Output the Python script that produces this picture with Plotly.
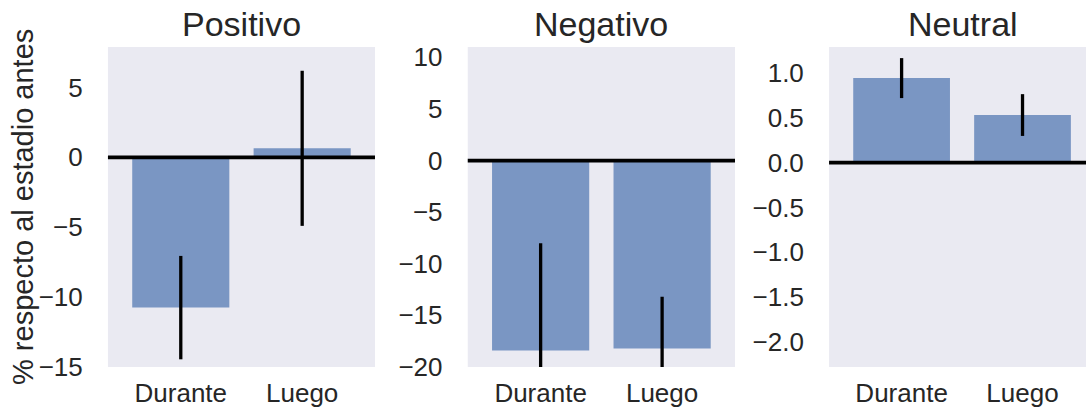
import plotly.graph_objects as go

categories = ["Durante", "Luego"]
panels = ["Positivo", "Negativo", "Neutral"]
positivo = [-10.75, 0.65]
positivo_err = [3.7, 5.55]
negativo = [-18.4, -18.2]
negativo_err = [10.4, 5.0]
neutral = [0.943, 0.531]
neutral_err = [0.223, 0.233]

values = [positivo, negativo, neutral]
errors = [positivo_err, negativo_err, neutral_err]
y_ranges = [[-15.0, 7.9], [-20.0, 11.0], [-2.28, 1.29]]
x_ranges = [[-0.6, 1.6], [-0.6, 1.6], [-0.6, 1.525]]
x_domains = [[0.0994, 0.3453], [0.4307, 0.6768], [0.7634, 1.0]]
dticks = [5, 5, 0.5]
tickformats = ["d", "d", ".1f"]

BG = "#EAEAF2"
BAR = "#7A96C3"
TXT = "#262626"
FONT = "Liberation Sans, Arial, sans-serif"

fig = go.Figure()
for i in range(3):
    sx = "" if i == 0 else str(i + 1)
    fig.add_trace(go.Bar(
        x=categories, y=values[i],
        xaxis="x" + sx, yaxis="y" + sx,
        marker=dict(color=BAR, line=dict(width=0)),
        width=0.8,
        error_y=dict(type="data", array=errors[i], color="black", thickness=3.3, width=0),
        showlegend=False, hoverinfo="skip",
    ))
    fig.add_shape(type="line", xref="x" + sx + " domain", yref="y" + sx,
                  x0=0, x1=1, y0=0, y1=0, line=dict(color="black", width=3.8), layer="above")
    fig.update_layout(**{
        "xaxis" + sx: dict(domain=x_domains[i], range=x_ranges[i], anchor="y" + sx,
                           showgrid=False, zeroline=False, showline=False, automargin=False,
                           ticks="outside", ticklen=3, tickcolor="rgba(0,0,0,0)",
                           tickfont=dict(size=26, color=TXT, family=FONT)),
        "yaxis" + sx: dict(domain=[0, 1], range=y_ranges[i], anchor="x" + sx,
                           showgrid=False, zeroline=False, showline=False, automargin=False,
                           dtick=dticks[i], tickformat=tickformats[i],
                           ticks="outside", ticklen=19, tickcolor="rgba(0,0,0,0)",
                           tickfont=dict(size=26, color=TXT, family=FONT)),
    })
    xc = (x_domains[i][0] + x_domains[i][1]) / 2
    if i == 2:
        xc = (x_domains[i][0] + 0.7634 + 267 / 1086) / 2
    fig.add_annotation(text=panels[i], xref="paper", yref="paper", x=xc, y=1,
                       xanchor="center", yanchor="bottom", yshift=2, showarrow=False,
                       font=dict(size=34, color=TXT, family=FONT))

fig.add_annotation(text="% respecto al estadio antes", xref="paper", yref="paper",
                   x=23 / 1086, y=0.5, xanchor="center", yanchor="middle", textangle=-90,
                   showarrow=False, font=dict(size=29, color=TXT, family=FONT))

fig.update_layout(
    width=1086, height=409,
    margin=dict(l=0, r=0, t=47, b=42),
    paper_bgcolor="white", plot_bgcolor=BG,
    bargap=0.2,
)

fig.write_html("out.html", config={"displayModeBar": False},
               post_script="document.body.style.margin='0';document.body.style.padding='0';")
